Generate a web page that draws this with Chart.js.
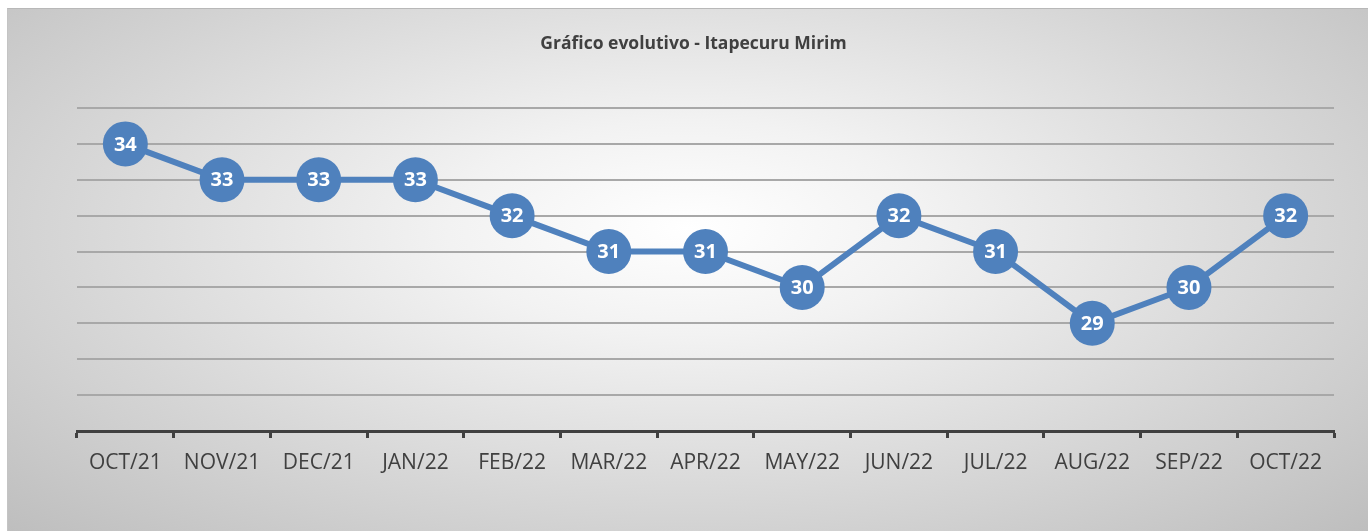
<!DOCTYPE html>
<html>
<head>
<meta charset="utf-8">
<script src="https://cdn.jsdelivr.net/npm/chart.js@4"></script>
<style>
  html, body { margin: 0; padding: 0; background: #ffffff; }
  #box {
    position: absolute;
    left: 7px; top: 8px;
    width: 1361px; height: 523px;
    border-top: 1px solid #b8b8b8;
    border-left: 1px solid #c4c4c4;
    box-sizing: border-box;
    background: radial-gradient(ellipse farthest-corner at 50% 42%, #ffffff 0%, #f2f2f2 25%, #d6d6d6 65%, #bebebe 100%);
  }
</style>
</head>
<body>
<div id="box"><canvas id="chart"></canvas></div>
<script>
// months on the x axis
const months = ['OCT/21', 'NOV/21', 'DEC/21', 'JAN/22', 'FEB/22', 'MAR/22', 'APR/22',
                'MAY/22', 'JUN/22', 'JUL/22', 'AUG/22', 'SEP/22', 'OCT/22'];
// values
const values = [34, 33, 33, 33, 32, 31, 31, 30, 32, 31, 29, 30, 32];
const chartTitle = 'Gráfico evolutivo - Itapecuru Mirim';

const blue = '#4f81bd';
const textGray = '#404040';

// writes each value inside its circle
const pointLabels = {
    id: 'pointLabels',
    afterDatasetsDraw(chart) {
        const ctx = chart.ctx;
        const meta = chart.getDatasetMeta(0);
        ctx.save();
        ctx.fillStyle = '#ffffff';
        ctx.font = 'bold 20px "Open Sans"';
        ctx.textAlign = 'center';
        ctx.textBaseline = 'middle';
        meta.data.forEach((pt, i) => {
            ctx.fillText(String(values[i]), pt.x, pt.y + 1);
        });
        ctx.restore();
    }
};

const ctx = document.getElementById('chart').getContext('2d');
const myChart = new Chart(ctx, {
    type: 'line',
    data: {
        labels: months,
        datasets: [{
            data: values,
            borderColor: blue,
            borderWidth: 6,
            backgroundColor: blue,
            pointBackgroundColor: blue,
            pointBorderColor: blue,
            pointBorderWidth: 0,
            pointRadius: 22.5,
            pointHoverRadius: 22.5,
            tension: 0,
            clip: false
        }]
    },
    options: {
        responsive: true,
        maintainAspectRatio: false,
        animation: false,
        events: [],
        layout: {
            autoPadding: false,
            padding: { left: 45, right: 34, top: 0, bottom: 0 }
        },
        plugins: {
            legend: { display: false },
            tooltip: { enabled: false },
            title: {
                display: true,
                text: chartTitle,
                color: textGray,
                font: { family: '"Open Sans"', size: 17.5, weight: 'bold' },
                padding: { top: 25, bottom: 53 }
            }
        },
        scales: {
            x: {
                offset: true,
                grid: {
                    offset: true,
                    drawOnChartArea: false,
                    drawTicks: true,
                    tickLength: 7,
                    tickWidth: 3,
                    tickColor: textGray
                },
                border: { display: true, color: textGray, width: 3 },
                ticks: {
                    color: textGray,
                    font: { family: '"Open Sans"', size: 21 },
                    padding: 12,
                    maxRotation: 0,
                    autoSkip: false
                },
                afterFit(scale) { scale.height = 100; }
            },
            y: {
                min: 26,
                max: 35,
                ticks: { display: false, stepSize: 1 },
                grid: { color: '#a8a8a8', lineWidth: 2, drawTicks: false },
                border: { display: false },
                afterFit(scale) { scale.width = 24; }
            }
        }
    },
    plugins: [pointLabels]
});
</script>
</body>
</html>
